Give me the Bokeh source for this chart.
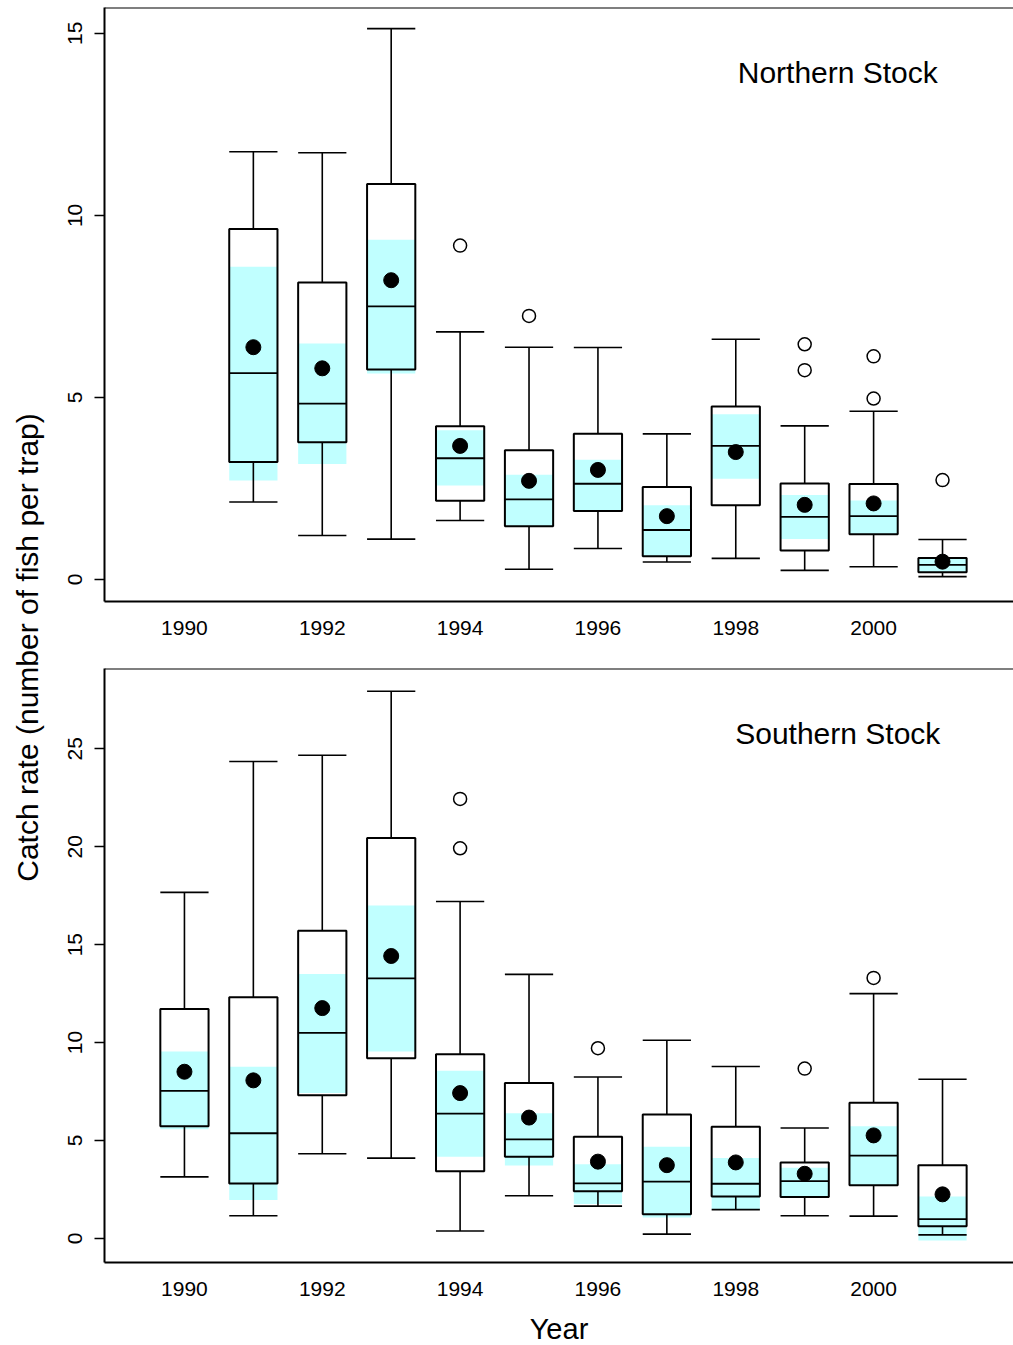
from math import pi
from bokeh.plotting import figure
from bokeh.models import ColumnDataSource, FixedTicker, Span, Label
from bokeh.layouts import row, column
from bokeh.embed import file_html
from bokeh.resources import INLINE

FONT = "Liberation Sans"
CYAN = "#C0FFFF"

# ---------------- Northern stock ----------------
n_years = [1991, 1992, 1993, 1994, 1995, 1996, 1997, 1998, 1999, 2000, 2001]
n_lo    = [2.13, 1.21, 1.11, 1.62, 0.28, 0.85, 0.48, 0.58, 0.25, 0.35, 0.08]
n_q1    = [3.23, 3.77, 5.77, 2.16, 1.46, 1.88, 0.64, 2.04, 0.80, 1.24, 0.20]
n_med   = [5.67, 4.83, 7.50, 3.33, 2.20, 2.63, 1.36, 3.67, 1.72, 1.74, 0.40]
n_q3    = [9.63, 8.16, 10.86, 4.21, 3.55, 4.00, 2.54, 4.75, 2.64, 2.62, 0.59]
n_hi    = [11.75, 11.72, 15.13, 6.80, 6.38, 6.37, 4.00, 6.60, 4.22, 4.62, 1.10]
n_mean  = [6.38, 5.80, 8.22, 3.67, 2.71, 3.01, 1.74, 3.50, 2.05, 2.09, 0.49]
n_ci_lo = [2.72, 3.17, 5.66, 2.58, 1.44, 1.88, 0.64, 2.77, 1.11, 1.24, 0.20]
n_ci_hi = [8.59, 6.48, 9.33, 4.10, 2.88, 3.29, 2.04, 4.54, 2.32, 2.17, 0.59]
n_out_years = [1994, 1995, 1999, 1999, 2000, 2000, 2001]
n_out_vals  = [9.17, 7.24, 6.46, 5.75, 6.13, 4.97, 2.73]

# ---------------- Southern stock ----------------
s_years = [1990, 1991, 1992, 1993, 1994, 1995, 1996, 1997, 1998, 1999, 2000, 2001]
s_lo    = [3.14, 1.16, 4.32, 4.10, 0.38, 2.18, 1.65, 0.22, 1.47, 1.16, 1.14, 0.18]
s_q1    = [5.73, 2.81, 7.31, 9.20, 3.43, 4.17, 2.41, 1.23, 2.14, 2.12, 2.72, 0.62]
s_med   = [7.53, 5.37, 10.49, 13.28, 6.37, 5.06, 2.81, 2.90, 2.79, 2.92, 4.23, 0.98]
s_q3    = [11.72, 12.32, 15.71, 20.45, 9.40, 7.93, 5.19, 6.33, 5.70, 3.88, 6.93, 3.74]
s_hi    = [17.67, 24.35, 24.67, 27.94, 17.20, 13.48, 8.24, 10.12, 8.78, 5.64, 12.50, 8.13]
s_mean  = [8.51, 8.07, 11.76, 14.42, 7.42, 6.17, 3.92, 3.74, 3.88, 3.30, 5.26, 2.25]
s_ci_lo = [5.57, 1.96, 7.42, 9.54, 4.17, 3.72, 1.76, 1.07, 1.47, 2.12, 2.72, -0.11]
s_ci_hi = [9.54, 8.76, 13.50, 17.00, 8.56, 6.39, 3.79, 4.68, 4.10, 3.61, 5.73, 2.14]
s_out_years = [1994, 1994, 1996, 1999, 2000]
s_out_vals  = [22.44, 19.92, 9.71, 8.67, 13.30]

x_ticks = [1990, 1992, 1994, 1996, 1998, 2000]
n_y_ticks = [0, 5, 10, 15]
s_y_ticks = [0, 5, 10, 15, 20, 25]

BOXW = 0.7
X_RANGE = (1988.84, 2002.03)


def make_panel(years, lo, q1, med, q3, hi, mean, ci_lo, ci_hi, oy, ov,
               y_range, yticks, title, title_x, title_y, top_border, frame_h,
               bottom_border, xlabel=None):
    p = figure(frame_width=909, frame_height=frame_h, x_range=X_RANGE,
               y_range=y_range, toolbar_location=None, output_backend="svg",
               min_border_left=46, min_border_right=0,
               min_border_top=top_border, min_border_bottom=bottom_border)
    p.grid.visible = False
    p.outline_line_color = None
    p.background_fill_color = "white"
    p.border_fill_color = "white"

    half = BOXW / 2
    src = ColumnDataSource(dict(
        x=years, x0=[y - half for y in years], x1=[y + half for y in years],
        lo=lo, q1=q1, med=med, q3=q3, hi=hi, mean=mean,
        ci_lo=ci_lo, ci_hi=ci_hi))

    # confidence band
    p.vbar(x="x", width=BOXW, bottom="ci_lo", top="ci_hi", source=src,
           fill_color=CYAN, line_color=None)
    # whiskers
    p.segment(x0="x", y0="q3", x1="x", y1="hi", source=src,
              line_color="black", line_width=1.6)
    p.segment(x0="x", y0="q1", x1="x", y1="lo", source=src,
              line_color="black", line_width=1.6)
    p.segment(x0="x0", y0="hi", x1="x1", y1="hi", source=src,
              line_color="black", line_width=1.6)
    p.segment(x0="x0", y0="lo", x1="x1", y1="lo", source=src,
              line_color="black", line_width=1.6)
    # box
    p.vbar(x="x", width=BOXW, bottom="q1", top="q3", source=src,
           fill_color=None, line_color="black", line_width=2)
    p.segment(x0="x0", y0="med", x1="x1", y1="med", source=src,
              line_color="black", line_width=1.8)
    # mean
    p.scatter(x="x", y="mean", source=src, size=15, marker="circle",
              fill_color="black", line_color="black")
    # outliers
    p.scatter(x=oy, y=ov, size=13, marker="circle", fill_color="white",
              line_color="black", line_width=1.5)

    # frame top line
    p.add_layout(Span(location=y_range[1], dimension="width",
                      line_color="black", line_width=2))

    p.add_layout(Label(x=title_x, y=title_y, text=title, text_align="center",
                       text_baseline="middle", text_font=FONT,
                       text_font_size="30px", text_color="black"))

    xa = p.xaxis[0]
    xa.ticker = FixedTicker(ticks=x_ticks)
    xa.axis_line_width = 2
    xa.axis_line_color = "black"
    xa.major_tick_line_color = None
    xa.major_tick_out = 0
    xa.major_tick_in = 0
    xa.minor_tick_line_color = None
    xa.major_label_text_font = FONT
    xa.major_label_text_font_size = "21px"
    xa.major_label_text_color = "black"
    xa.major_label_standoff = 19
    if xlabel:
        xa.axis_label = xlabel
        xa.axis_label_text_font = FONT
        xa.axis_label_text_font_size = "29px"
        xa.axis_label_text_font_style = "normal"
        xa.axis_label_text_color = "black"
        xa.axis_label_standoff = 14

    ya = p.yaxis[0]
    ya.ticker = FixedTicker(ticks=yticks)
    ya.axis_line_width = 2
    ya.axis_line_color = "black"
    ya.major_tick_out = 10
    ya.major_tick_in = 0
    ya.major_tick_line_width = 1.5
    ya.minor_tick_line_color = None
    ya.major_label_orientation = "vertical"
    ya.major_label_text_font = FONT
    ya.major_label_text_font_size = "21px"
    ya.major_label_text_color = "black"
    ya.major_label_standoff = 12
    return p


top = make_panel(n_years, n_lo, n_q1, n_med, n_q3, n_hi, n_mean, n_ci_lo,
                 n_ci_hi, n_out_years, n_out_vals, (-0.604, 15.71), n_y_ticks,
                 "Northern Stock", 1999.48, 13.93, 7, 594, 49)
bottom = make_panel(s_years, s_lo, s_q1, s_med, s_q3, s_hi, s_mean, s_ci_lo,
                    s_ci_hi, s_out_years, s_out_vals, (-1.23, 29.1), s_y_ticks,
                    "Southern Stock", 1999.48, 25.77, 18, 594, 82, xlabel="Year")

# shared y-axis title
lab = figure(width=58, height=1344, x_range=(0, 1), y_range=(0, 1),
             toolbar_location=None, output_backend="svg",
             x_axis_location=None, y_axis_location=None,
             min_border=0, min_border_left=0, min_border_right=0,
             min_border_top=0, min_border_bottom=0)
lab.grid.visible = False
lab.outline_line_color = None
lab.add_layout(Label(x=27 / 58, y=1 - 647 / 1344,
                     text="Catch rate (number of fish per trap)",
                     angle=pi / 2, text_align="center", text_baseline="middle",
                     text_font=FONT, text_font_size="30px", text_color="black"))

layout = row(lab, column(top, bottom))

with open("out.html", "w") as f:
    f.write(file_html(layout, INLINE))
